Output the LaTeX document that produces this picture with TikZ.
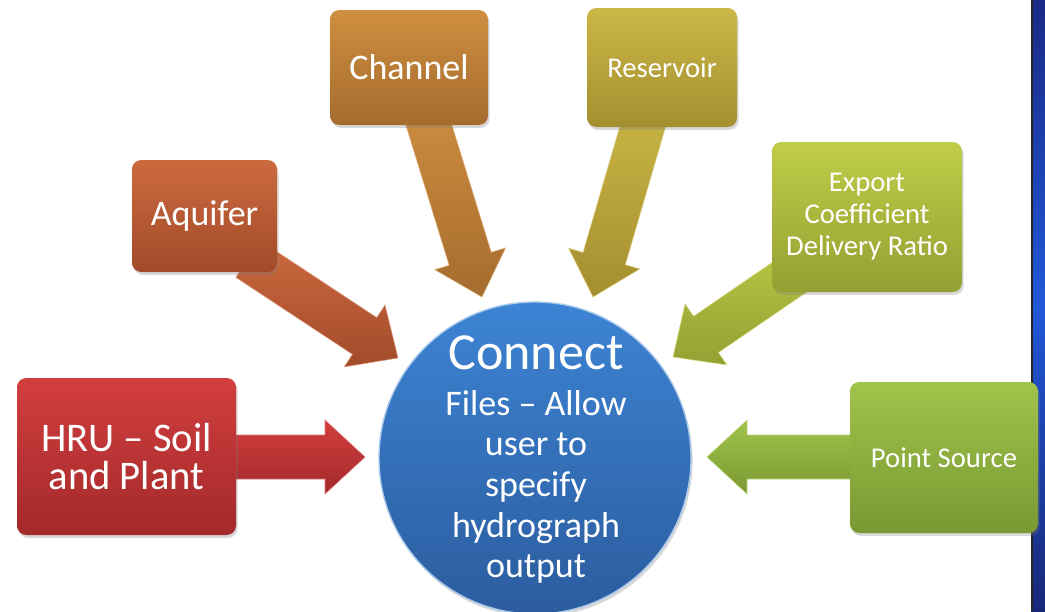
\documentclass[tikz,border=0pt]{standalone}
\usepackage{fontspec}
\setmainfont{Carlito}
\usetikzlibrary{calc,shadows}
\definecolor{hruT}{HTML}{D23E3E}\definecolor{hruB}{HTML}{A3292B}
\definecolor{aqT}{HTML}{CC6A3E}\definecolor{aqB}{HTML}{A24A2A}
\definecolor{chT}{HTML}{CF8E40}\definecolor{chB}{HTML}{A56C2E}
\definecolor{reT}{HTML}{CBB746}\definecolor{reB}{HTML}{A48F30}
\definecolor{exT}{HTML}{BFCD48}\definecolor{exB}{HTML}{94A032}
\definecolor{psT}{HTML}{9FC44A}\definecolor{psB}{HTML}{7A9833}
\definecolor{hubT}{HTML}{3D84D4}\definecolor{hubB}{HTML}{2B5C9E}
\definecolor{stripT}{HTML}{1A2A86}\definecolor{stripM}{HTML}{2158D8}\definecolor{stripB}{HTML}{182878}
\newcommand{\blockarr}[3]{%
  \coordinate (#1-base) at ($(#2)!30pt!(#1)$);
  \path[#3] ($(#1)!16.5pt!90:(#2)$) -- ($(#1-base)!16.5pt!-90:(#1)$)
    -- ($(#1-base)!27.75pt!-90:(#1)$) -- (#2)
    -- ($(#1-base)!27.75pt!90:(#1)$) -- ($(#1-base)!16.5pt!90:(#1)$)
    -- ($(#1)!16.5pt!-90:(#2)$) -- cycle;}
\begin{document}
\begin{tikzpicture}[x=0.75pt,y=-0.75pt,
  box/.style={rounded corners=7pt, text=white, align=center, inner sep=0pt,
    drop shadow={shadow xshift=1.2pt,shadow yshift=-2.2pt,opacity=0.3}},
  arr/.style={top color=#1T, bottom color=#1B, draw=#1T!70!white, line width=0.4pt},
  lbl/.style={text=white, align=center, inner sep=0pt}]
\useasboundingbox (0,0) rectangle (1045,611);
\fill[white] (0,0) rectangle (1045,611);
% right strip
\shade[top color=stripT, bottom color=stripB, middle color=stripM] (1031,0) rectangle (1045,611);
\fill[black!85] (1030.5,0) rectangle (1033,611);
% arrow coordinates
\coordinate (hru-s) at (150,457);  \coordinate (hru-t) at (365,457);
\coordinate (aq-s) at (248,259);   \coordinate (aq-t) at (398,358);
\coordinate (ch-s) at (423,106);   \coordinate (ch-t) at (482,297);
\coordinate (re-s) at (649,105);   \coordinate (re-t) at (593,297);
\coordinate (ex-s) at (838,244);   \coordinate (ex-t) at (673,357);
\coordinate (ps-s) at (900,457);   \coordinate (ps-t) at (707,457);
% arrows
\blockarr{hru-s}{hru-t}{arr=hru}
\blockarr{aq-s}{aq-t}{arr=aq}
\blockarr{ch-s}{ch-t}{arr=ch}
\blockarr{re-s}{re-t}{arr=re}
\blockarr{ex-s}{ex-t}{arr=ex}
\blockarr{ps-s}{ps-t}{arr=ps}
% hub
\node[circle, minimum size=234pt, inner sep=0pt, top color=hubT, bottom color=hubB,
  draw=hubT!45!white, line width=1pt,
  drop shadow={shadow xshift=1.2pt,shadow yshift=-2.2pt,opacity=0.3}] (hub) at (535,458) {};
\node[lbl, font=\fontsize{27}{30.5}\selectfont] (hubtext) at (536,460)
  {{\fontsize{39}{44}\selectfont Connect}\\[3.5pt]Files – Allow\\user to\\specify\\hydrograph\\output};
% boxes
\node[box, top color=hruT, bottom color=hruB, minimum width=164.25pt, minimum height=117.75pt,
  font=\fontsize{30.5}{29}\selectfont] (hru) at (126.5,456.5) {HRU – Soil\\and Plant};
\node[box, top color=aqT, bottom color=aqB, minimum width=108.75pt, minimum height=84pt,
  font=\fontsize{27}{30}\selectfont] (aq) at (204.5,216) {Aquifer};
\node[box, top color=chT, bottom color=chB, minimum width=118.5pt, minimum height=86.25pt,
  font=\fontsize{27}{30}\selectfont] (ch) at (409,67.5) {Channel};
\node[box, top color=reT, bottom color=reB, minimum width=112.5pt, minimum height=89.25pt,
  font=\fontsize{21.5}{24}\selectfont] (re) at (662,67.5) {Reservoir};
\node[box, top color=exT, bottom color=exB, minimum width=142.5pt, minimum height=112.5pt,
  font=\fontsize{21.5}{24}\selectfont] (ex) at (867,217) {Export\\Coefficient\\Delivery Ratio};
\node[box, top color=psT, bottom color=psB, minimum width=141pt, minimum height=113.25pt,
  font=\fontsize{21.5}{24}\selectfont] (ps) at (944,457.5) {Point Source};
\end{tikzpicture}
\end{document}
